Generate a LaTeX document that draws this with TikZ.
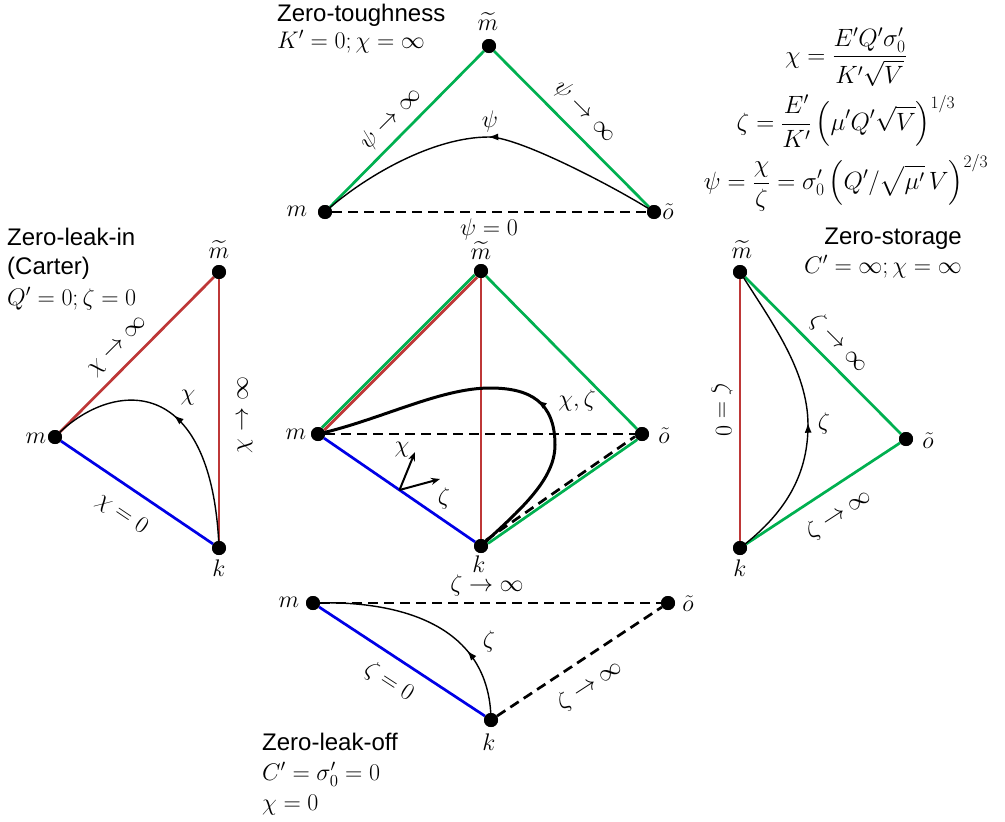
\documentclass[tikz,border=0pt]{standalone}
\usepackage{fix-cm}
\usepackage{amsmath}
\usepackage{fontspec}
\newfontfamily\arialf{Liberation Sans}
\usetikzlibrary{arrows.meta,decorations.markings,calc}
\definecolor{grn}{RGB}{0,176,80}
\definecolor{rd}{RGB}{190,55,55}
\definecolor{blu}{RGB}{0,0,230}
\begin{document}
\begin{tikzpicture}[x=1pt,y=-1pt,
  every node/.style={font=\fontsize{24}{28}\selectfont, inner sep=0pt},
  dot/.style={circle,fill=black,inner sep=0pt,minimum size=14pt},
  ttl/.style={font=\fontsize{24}{28}\selectfont\arialf, anchor=base west},
  cond/.style={anchor=base west},
  gline/.style={draw=grn,line width=2.7pt},
  rline/.style={draw=rd,line width=2.7pt},
  bline/.style={draw=blu,line width=2.7pt},
  dline/.style={draw=black,line width=2.7pt,dash pattern=on 10pt off 6pt},
  traj/.style={draw=black,line width=1.4pt},
  thicktraj/.style={draw=black,line width=3pt},
  axisarrow/.style={draw=black,line width=2pt,-{Stealth[length=9pt,width=7pt]}},
  midarrow/.style={postaction={decorate},decoration={markings,mark=at position #1 with {\arrow{Latex[length=10pt,width=7pt]}}}},
]
\useasboundingbox (0,0) rectangle (1005,822);

% ---------- vertices ----------
% top (zero-toughness)
\node[dot] (Tm)  at (325,212) {};
\node[dot] (Tmt) at (489,46) {};
\node[dot] (To)  at (654,212) {};
% left (zero-leak-in)
\node[dot] (Lm)  at (55,437) {};
\node[dot] (Lmt) at (219,272) {};
\node[dot] (Lk)  at (219,548) {};
% centre
\node[dot] (Cm)  at (318,434) {};
\node[dot] (Cmt) at (481,271) {};
\node[dot] (Co)  at (642,434) {};
\node[dot] (Ck)  at (481,546) {};
% right (zero-storage)
\node[dot] (Rmt) at (740,272) {};
\node[dot] (Ro)  at (906,439) {};
\node[dot] (Rk)  at (740,548) {};
% bottom (zero-leak-off)
\node[dot] (Bm)  at (313,603) {};
\node[dot] (Bo)  at (668,603) {};
\node[dot] (Bk)  at (491,720) {};

% ---------- edges ----------
% top
\draw[gline] (Tm) -- (Tmt);
\draw[gline] (Tmt) -- (To);
\draw[dline] (Tm) -- (To);
% left
\draw[rline] (Lm) -- (Lmt);
\draw[rline] (Lmt) -- (Lk);
\draw[bline] (Lm) -- (Lk);
% centre
\draw[gline, transform canvas={shift={(-1.2,-1.2)}}] (Cm) -- (Cmt);
\draw[rline, transform canvas={shift={(1.2,1.2)}}] (Cm) -- (Cmt);
\draw[rline] (Cmt) -- (Ck);
\draw[gline] (Cmt) -- (Co);
\draw[dline] (Cm) -- (Co);
\draw[bline] (Cm) -- (Ck);
\draw[gline, transform canvas={shift={(1.1,1.6)}}] (Ck) -- (Co);
\draw[dline, transform canvas={shift={(-1.1,-1.6)}}] (Ck) -- (Co);
% right
\draw[rline] (Rmt) -- (Rk);
\draw[gline] (Rmt) -- (Ro);
\draw[gline] (Rk) -- (Ro);
% bottom
\draw[dline] (Bm) -- (Bo);
\draw[bline] (Bm) -- (Bk);
\draw[dline] (Bk) -- (Bo);

% ---------- trajectories ----------
\coordinate (Tpk) at (489,137);
\draw[traj, midarrow=0.5] (To.center) .. controls (620,190) and (520,137) .. (Tpk)
      .. controls (430,137) and (360,180) .. (Tm.center);
\draw[traj, midarrow=0.52] (Lk.center) .. controls (212,370) and (110,380) .. (Lm.center);
\coordinate (Crt) at (555,445);
\coordinate (Cpk) at (490,388);
\draw[thicktraj, midarrow=0.44] (Ck.center) .. controls (520,510) and (555,480) .. (Crt)
      .. controls (555,402) and (530,388) .. (Cpk)
      .. controls (440,388) and (380,420) .. (Cm.center);
\coordinate (Rrt) at (808,425);
\draw[traj, midarrow=0.47] (Rk.center) .. controls (790,510) and (808,470) .. (Rrt)
      .. controls (808,370) and (770,320) .. (Rmt.center);
\draw[traj, midarrow=0.31] (Bk.center) .. controls (490,625) and (400,600) .. (Bm.center);

% axes in centre
\coordinate (O) at ($(Cm)!0.5!(Ck)$);
\coordinate (Ax) at (415,452);
\coordinate (Az) at (440,479);
\draw[axisarrow] (O) -- (Ax);
\draw[axisarrow] (O) -- (Az);
\node (AxL) at (402,450) {$\chi$};
\node (AzL) at (444,498) {$\zeta$};

% dots on top
\foreach \n in {Tm,Tmt,To,Lm,Lmt,Lk,Cm,Cmt,Co,Ck,Rmt,Ro,Rk,Bm,Bo,Bk}
  \fill (\n) circle (7pt);

% ---------- vertex labels ----------
\node (Tml)  at (297,211) {$m$};
\node (Tmtl) at (488,22)  {$\widetilde{m}$};
\node (Tol)  at (668,212) {$\tilde{o}$};
\node (Lml)  at (36,438)  {$m$};
\node (Lmtl) at (219,250) {$\widetilde{m}$};
\node (Lkl)  at (219,568) {$k$};
\node (Cml)  at (296,434) {$m$};
\node (Cmtl) at (481,251) {$\widetilde{m}$};
\node (Col)  at (664,436) {$\tilde{o}$};
\node (Ckl)  at (479,564) {$k$};
\node (Rmtl) at (742,250) {$\widetilde{m}$};
\node (Rol)  at (928,441) {$\tilde{o}$};
\node (Rkl)  at (740,568) {$k$};
\node (Bml)  at (289,602) {$m$};
\node (Bol)  at (688,604) {$\tilde{o}$};
\node (Bkl)  at (489,742) {$k$};

% ---------- edge labels ----------
\node[rotate=45]  (Te1) at (391,119) {$\psi\to\infty$};
\node[rotate=-45] (Te2) at (585,112) {$\psi\to\infty$};
\node             (Te3) at (489,229) {$\psi=0$};
\node             (Tc)  at (490,121) {$\psi$};

\node[rotate=45]  (Le1) at (119,347) {$\chi\to\infty$};
\node[rotate=90]  (Le2) at (245,415) {$\chi\to\infty$};
\node[rotate=-34] (Le3) at (122,514) {$\chi=0$};
\node             (Lc)  at (188,398) {$\chi$};

\node             (Cc)  at (577,400) {$\chi,\zeta$};

\node[rotate=-90] (Re1) at (722,410) {$\zeta=0$};
\node[rotate=-45] (Re2) at (839,343) {$\zeta\to\infty$};
\node[rotate=33]  (Re3) at (839,514) {$\zeta\to\infty$};
\node             (Rc)  at (824,423) {$\zeta$};

\node             (Be1) at (487,585) {$\zeta\to\infty$};
\node[rotate=-33] (Be2) at (389,682) {$\zeta=0$};
\node[rotate=33]  (Be3) at (590,685) {$\zeta\to\infty$};
\node             (Bc)  at (489,641) {$\zeta$};

% ---------- titles ----------
\node[ttl]  (Tt1) at (277,21)  {Zero-toughness};
\node[cond] (Tt2) at (277,48)  {$K'=0;\chi=\infty$};
\node[ttl]  (Lt1) at (7,245)   {Zero-leak-in};
\node[ttl]  (Lt2) at (7,274)   {(Carter)};
\node[cond] (Lt3) at (7,305)   {$Q'=0;\zeta=0$};
\node[ttl, anchor=base east]  (Rt1) at (962,244) {Zero-storage};
\node[cond, anchor=base east] (Rt2) at (962,273) {$C'=\infty;\chi=\infty$};
\node[ttl]  (Bt1) at (262,750) {Zero-leak-off};
\node[cond] (Bt2) at (262,780) {$C'=\sigma_0'=0$};
\node[cond] (Bt3) at (262,810) {$\chi=0$};

% ---------- formulas ----------
\begin{scope}[every node/.style={font=\fontsize{25}{30}\selectfont, inner sep=0pt}]
\node (F1) at (846,57)  {$\displaystyle\chi=\frac{E'Q'\sigma_0'}{K'\sqrt{V}}$};
\node (F2) at (846,121) {$\displaystyle\zeta=\frac{E'}{K'}\left(\mu'Q'\sqrt{V}\right)^{1/3}$};
\node (F3) at (846,183) {$\displaystyle\psi=\frac{\chi}{\zeta}=\sigma_0'\left(Q'/\sqrt{\mu'}\,V\right)^{2/3}$};
\end{scope}
\end{tikzpicture}
\end{document}
